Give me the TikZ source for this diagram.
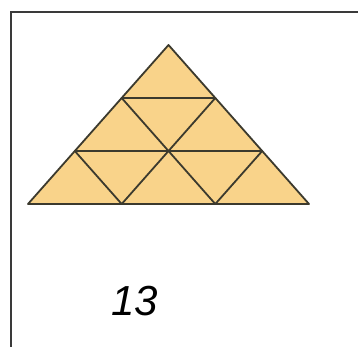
\documentclass[tikz,border=0pt]{standalone}
\usepackage{fontspec}
\setmainfont{Liberation Sans}
\definecolor{tri}{HTML}{F9D38A}
\definecolor{edge}{HTML}{3C3A2E}
\definecolor{frame}{HTML}{3A3A3A}
\begin{document}
\begin{tikzpicture}[x=1pt,y=-1pt,
  gridline/.style={draw=edge,line width=1.8pt,line cap=round,line join=round},
  frameline/.style={draw=frame,line width=1.4pt}]
\useasboundingbox (0,0) rectangle (358,347);
\fill[white] (0,0) rectangle (358,347);
% frame
\coordinate (fbl) at (11,347);
\coordinate (ftl) at (11,12);
\coordinate (ftr) at (358,12);
\draw[frameline] (fbl) -- (ftl) -- (ftr);
% vertices
\coordinate (A) at (168.5,45);
\coordinate (B1) at (121.7,98);
\coordinate (B2) at (215.3,98);
\coordinate (C1) at (74.8,151);
\coordinate (C2) at (168.5,151);
\coordinate (C3) at (262.2,151);
\coordinate (D1) at (28,204);
\coordinate (D2) at (121.7,204);
\coordinate (D3) at (215.3,204);
\coordinate (D4) at (309,204);
\fill[tri] (A) -- (D1) -- (D4) -- cycle;
\draw[gridline] (A) -- (D1) -- (D4) -- cycle;
\draw[gridline] (B1) -- (B2);
\draw[gridline] (C1) -- (C3);
\draw[gridline] (B1) -- (D3);
\draw[gridline] (B2) -- (D2);
\draw[gridline] (C1) -- (D2);
\draw[gridline] (C3) -- (D3);
\node[font=\fontsize{42}{48}\selectfont\itshape, text=black, inner sep=0pt, anchor=base] (lbl) at (135,315) {13};
\end{tikzpicture}
\end{document}
